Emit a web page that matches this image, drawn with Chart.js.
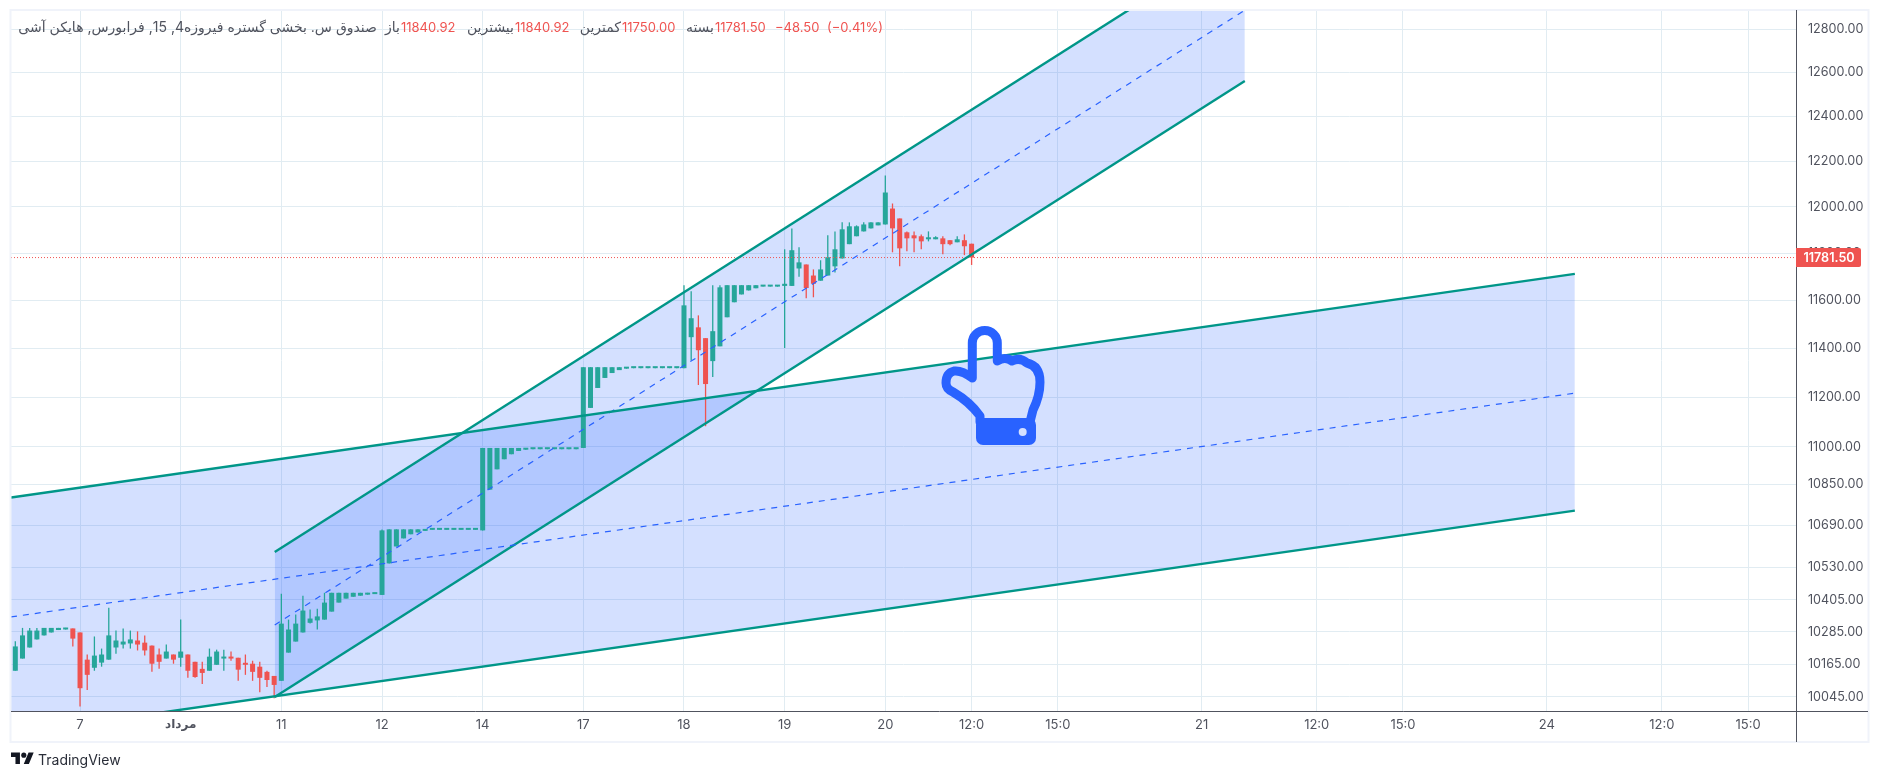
<!DOCTYPE html>
<html lang="fa">
<head>
    <meta charset="UTF-8">
    <title>TradingView chart</title>
    <script src="https://cdn.jsdelivr.net/npm/chart.js"></script>
    <style>
      html, body { margin: 0; padding: 0; background: #fff; width: 1879px; height: 781px; overflow: hidden; }
      body { font-family: Inter, Roboto, "DejaVu Sans", sans-serif; position: relative; }
      canvas { position: absolute; left: 0; top: 0; }
      #legend span { position: absolute; top: 18px; font-size: 13px; line-height: 18px; white-space: nowrap; color: #50535e; }
      #legend .red { color: #ef5350; }
      #legend .fa { direction: rtl; font-size: 14px; }
      #hand { position: absolute; left: 920px; top: 310px; }
      #brand { position: absolute; left: 11px; top: 750px; display: flex; align-items: center; }
      #brand b { font-weight: 400; font-size: 14px; color: #2a2e39; margin-left: 4px; }
    </style>
</head>
<body>
    <canvas id="chart" width="1879" height="781"></canvas>
    <div id="legend">
      <span class="fa" style="right:1502px">صندوق س. بخشی گستره فیروزه4, 15, فرابورس, هایکن آشی</span>
      <span class="fa" style="right:1479px">باز</span><span class="red" style="left:401px">11840.92</span>
      <span class="fa" style="right:1365px">بیشترین</span><span class="red" style="left:515px">11840.92</span>
      <span class="fa" style="right:1258px">کمترین</span><span class="red" style="left:622px">11750.00</span>
      <span class="fa" style="right:1165px">بسته</span><span class="red" style="left:715px">11781.50</span>
      <span class="red" style="left:775px">−48.50</span><span class="red" style="left:827px">(−0.41%)</span>
    </div>
    <svg id="hand" width="140" height="150" viewBox="0 0 140 150">
      <path d="M52.3 68 L52.3 33 A12.5 12.5 0 0 1 77.3 33 L77.3 51 Q85 46 92 51 Q100 47 107 53 Q120 56 120 72 Q120 86 113 100 L110 112 M52.3 68 Q42 60 34 61 Q26 63 26 73 Q26 79 33 82 Q50 92 60 106 L60 112"
            fill="none" stroke="#2962ff" stroke-width="9" stroke-linecap="round" stroke-linejoin="round"/>
      <rect x="56" y="108" width="60" height="27" rx="7" fill="#2962ff"/>
      <circle cx="102.7" cy="122" r="4" fill="#d4e0ff"/>
    </svg>
    <div id="brand">
      <svg width="23" height="18" viewBox="0 0 36 28"><path fill="#131722" d="M14 22H7V11H0V4h14v18zM28 22h-8l7.5-18h8L28 22z"/><circle fill="#131722" cx="20" cy="8" r="4"/></svg>
      <b>TradingView</b>
    </div>

    <script>
        // one candle per index, heikin ashi values
        const opens = [
            10141,10186,10227,10257,10272,10283,10292,10294,10298,10283,
            10182,10152,10171,10182,10227,10238,10242,10253,10245,10234,
            10201,10186,10201,10189,10201,10174,10148,10141,10163,10186,
            10189,10189,10167,10167,10156,10137,10122,10104,10208,10249,
            10283,10319,10328,10331,10361,10395,10410,10417,10421,10425,
            10427,10424,10544,10609,10640,10656,10663,10669,10673,10673,
            10673,10673,10673,10673,10673,10671,10830,10910,10950,10970,
            10983,10988,10990,10990,10990,10990,10990,10990,10990,10995,
            11156,11237,11278,11298,11310,11316,11318,11318,11318,11318,
            11318,11318,11318,11318,11446,11487,11442,11347,11408,11529,
            11592,11625,11642,11651,11658,11658,11658,11661,11661,11735,
            11752,11705,11683,11705,11744,11778,11839,11873,11894,11907,
            11920,11924,11993,11950,11890,11877,11873,11860,11860,11864,
            11856,11847,11856,11840.92
        ];
        const highs = [
            10250,10300,10300,10300,10300,10300,10300,10300,10298,10283,
            10201,10268,10223,10376,10290,10298,10290,10287,10272,10234,
            10223,10238,10201,10331,10201,10174,10174,10223,10219,10219,
            10212,10189,10201,10178,10174,10141,10122,10428,10331,10350,
            10421,10369,10372,10432,10432,10432,10432,10432,10432,10432,
            10432,10674,10675,10675,10675,10675,10675,10675,10675,10675,
            10675,10675,10675,10675,10675,10995,10995,10995,10995,10995,
            10995,10995,10995,10995,10995,10995,10995,10995,10995,11322,
            11322,11322,11322,11322,11322,11322,11322,11322,11322,11322,
            11322,11322,11322,11664,11638,11537,11442,11664,11664,11664,
            11664,11664,11664,11664,11664,11664,11664,11817,11907,11826,
            11752,11731,11770,11877,11894,11933,11933,11920,11933,11933,
            11933,12138,12015,11950,11894,11894,11881,11894,11873,11873,
            11856,11873,11881,11840.92
        ];
        const lows = [
            10141,10186,10227,10257,10272,10283,10292,10294,10231,10010,
            10070,10141,10156,10182,10204,10223,10223,10216,10197,10137,
            10148,10186,10167,10156,10115,10115,10092,10141,10163,10141,
            10178,10104,10126,10104,10062,10081,10040,10104,10208,10249,
            10283,10316,10294,10331,10361,10395,10410,10417,10421,10425,
            10427,10424,10544,10609,10640,10656,10663,10669,10673,10673,
            10673,10673,10673,10673,10673,10671,10830,10910,10950,10970,
            10983,10988,10990,10990,10990,10990,10990,10990,10990,10995,
            11156,11237,11278,11298,11310,11316,11318,11318,11318,11318,
            11318,11318,11318,11318,11351,11249,11082,11282,11408,11529,
            11592,11625,11642,11651,11658,11658,11658,11401,11661,11700,
            11609,11613,11683,11705,11718,11778,11839,11873,11894,11907,
            11920,11924,11804,11744,11809,11804,11817,11851,11860,11796,
            11834,11847,11792,11750
        ];
        const closes = [
            10231,10272,10290,10290,10300,10300,10300,10300,10260,10077,
            10126,10197,10201,10272,10253,10249,10257,10238,10216,10167,
            10174,10212,10182,10212,10141,10118,10133,10193,10212,10193,
            10186,10145,10163,10137,10115,10107,10089,10316,10294,10316,
            10365,10335,10343,10395,10432,10432,10432,10432,10432,10432,
            10432,10671,10675,10675,10675,10675,10675,10675,10675,10675,
            10675,10675,10675,10675,10675,10995,10995,10995,10995,10995,
            10995,10995,10995,10995,10995,10995,10995,10995,10995,11322,
            11322,11322,11322,11322,11322,11322,11322,11322,11322,11322,
            11322,11322,11322,11579,11525,11392,11253,11471,11655,11664,
            11664,11664,11664,11664,11664,11664,11664,11670,11813,11761,
            11652,11670,11731,11783,11817,11903,11916,11916,11924,11933,
            11933,12063,11907,11821,11864,11864,11851,11864,11869,11839,
            11839,11860,11830,11781.5
        ];

        const xTicks = [9, 23, 37, 51, 65, 79, 93, 107, 121, 133, 145, 165, 181, 193, 213, 229, 241];
        const xLabels = ['7', 'مرداد', '11', '12', '14', '17', '18', '19', '20', '12:0', '15:0', '21', '12:0', '15:0', '24', '12:0', '15:0'];
        const yTicks = [10045, 10165, 10285, 10405, 10530, 10690, 10850, 11000, 11200, 11400, 11600, 11800, 12000, 12200, 12400, 12600, 12800];

        // channels: [bar index, price] at each end
        const wideUpper = [[-0.6, 10799], [216.9, 11712]];
        const wideMiddle = [[-0.6, 10341], [216.9, 11216]];
        const wideLower = [[-0.6, 9911], [216.9, 10748]];
        const steepUpper = [[36.08, 10588], [171, 13238]];
        const steepMiddle = [[36.08, 10311], [171, 12888]];
        const steepLower = [[36.08, 10045], [171, 12561]];

        const xMin = -0.6, xMax = 247.66, yMin = 9994, yMax = 12889;
        const lastPrice = closes[closes.length - 1];

        const UP = '#26a69a', DOWN = '#ef5350', CHANNEL = '#009688', BLUE = '#2962ff';
        const FONT = 'Inter, Roboto, "DejaVu Sans", sans-serif';
        const pts = arr => arr.map(p => ({ x: p[0], y: p[1] }));
        const idx = opens.map((_, i) => i);
        const candleColors = idx.map(i => closes[i] >= opens[i] ? UP : DOWN);

        const channelFill = (upper, lower, target) => [
            { type: 'line', data: pts(upper), order: 10, borderWidth: 0, pointRadius: 0, fill: { target: target }, backgroundColor: 'rgba(41,98,255,0.2)' },
            { type: 'line', data: pts(lower), order: 10, borderWidth: 0, pointRadius: 0, fill: false }
        ];
        const channelLine = (data, middle) => ({
            type: 'line', data: pts(data), order: 1, pointRadius: 0, fill: false,
            borderColor: middle ? BLUE : CHANNEL,
            borderWidth: middle ? 1.2 : 2.4,
            borderDash: middle ? [6, 6] : []
        });

        const frame = {
            id: 'frame',
            afterDraw(c) {
                const g = c.ctx, a = c.chartArea;
                g.save();
                g.strokeStyle = '#f0f3fa';
                g.lineWidth = 2;
                g.strokeRect(10.5, 10, 1858, 732);
                g.strokeStyle = '#50535e';
                g.lineWidth = 1;
                g.beginPath();
                g.moveTo(a.left, a.bottom + 0.5); g.lineTo(1868, a.bottom + 0.5);
                g.moveTo(a.right + 0.5, a.top); g.lineTo(a.right + 0.5, 742);
                g.stroke();
                // last price badge
                const y = c.scales.y.getPixelForValue(lastPrice);
                g.fillStyle = DOWN;
                g.beginPath();
                g.roundRect(a.right, y - 9.5, 65, 19, [0, 2, 2, 0]);
                g.fill();
                g.fillStyle = '#fff';
                g.font = '600 12.6px ' + FONT;
                g.textAlign = 'center';
                g.textBaseline = 'middle';
                g.fillText(lastPrice.toFixed(2), a.right + 33, y + 0.5);
                g.restore();
            }
        };

        new Chart(document.getElementById('chart').getContext('2d'), {
            type: 'bar',
            data: {
                datasets: [
                    ...channelFill(wideUpper, wideLower, 1),
                    ...channelFill(steepUpper, steepLower, 3),
                    {
                        type: 'bar', order: 5, grouped: false, barThickness: 1.3, inflateAmount: 0,
                        data: idx.map(i => ({ x: i, y: [lows[i], highs[i]] })),
                        backgroundColor: candleColors
                    },
                    {
                        type: 'bar', order: 4, grouped: false, barThickness: 5, inflateAmount: 0, minBarLength: 2,
                        data: idx.map(i => ({ x: i, y: [opens[i], closes[i]] })),
                        backgroundColor: candleColors
                    },
                    channelLine(wideUpper), channelLine(wideMiddle, true), channelLine(wideLower),
                    channelLine(steepUpper), channelLine(steepMiddle, true), channelLine(steepLower),
                    {
                        type: 'line', order: 2, pointRadius: 0, fill: false,
                        data: [{ x: xMin, y: lastPrice }, { x: xMax, y: lastPrice }],
                        borderColor: DOWN, borderWidth: 1, borderDash: [1, 2]
                    }
                ]
            },
            options: {
                responsive: false,
                animation: false,
                events: [],
                layout: { padding: { left: 11, top: 10, right: 11, bottom: 39 } },
                plugins: { legend: { display: false }, tooltip: { enabled: false } },
                scales: {
                    x: {
                        type: 'linear', min: xMin, max: xMax, offset: false,
                        afterBuildTicks: s => { s.ticks = xTicks.map(v => ({ value: v })); },
                        afterFit: s => { s.height = 31; s.paddingLeft = 0; s.paddingRight = 0; },
                        grid: { color: '#e1ecf2', drawTicks: false, offset: false },
                        border: { display: false },
                        ticks: {
                            autoSkip: false, maxRotation: 0, padding: 6, color: '#50535e',
                            font: c => ({ family: FONT, size: c.index === 1 ? 12 : 13, weight: c.index === 1 ? 600 : 400 }),
                            callback: v => xLabels[xTicks.indexOf(v)]
                        }
                    },
                    y: {
                        type: 'logarithmic', position: 'right', min: yMin, max: yMax,
                        afterBuildTicks: s => { s.ticks = yTicks.map(v => ({ value: v })); },
                        afterFit: s => { s.width = 72; s.paddingTop = 0; s.paddingBottom = 0; },
                        grid: { color: '#e1ecf2', drawTicks: false },
                        border: { display: false },
                        ticks: {
                            autoSkip: false, padding: 12, color: '#50535e',
                            font: { family: FONT, size: 12.6 },
                            callback: v => v.toFixed(2)
                        }
                    }
                }
            },
            plugins: [frame]
        });
    </script>
</body>
</html>
